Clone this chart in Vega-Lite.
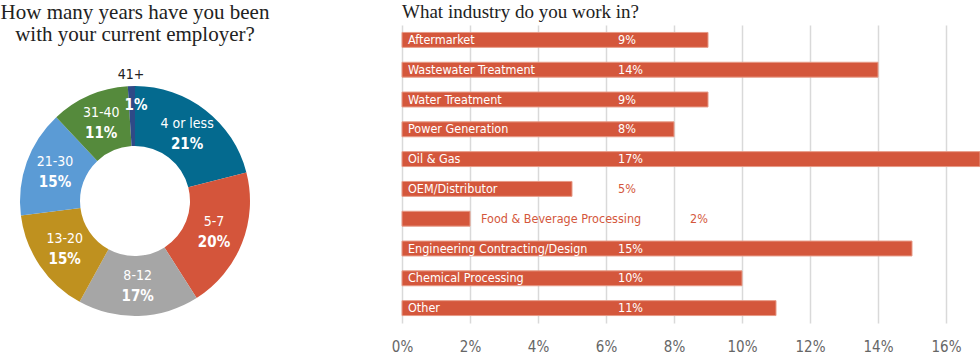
{
  "$schema": "https://vega.github.io/schema/vega-lite/v6.json",
  "padding": {"top": 2, "left": 0, "right": 0, "bottom": 0},
  "spacing": 121,
  "background": "white",
  "config": {
    "view": {"stroke": null},
    "title": {"font": "Liberation Serif", "fontWeight": "normal", "color": "#222222"}
  },
  "hconcat": [
    {
      "vconcat": [
        {
          "width": 264,
          "height": 60,
          "title": {"text": ["How many years have you been", "with your current employer?"], "anchor": "middle", "fontSize": 21, "lineHeight": 22, "offset": -20},
          "data": {"values": []},
          "mark": "text"
        },
        {
          "width": 264,
          "height": 232,
          "data": {"values": [
            {"cat": "4 or less", "pct": 0.21, "ord": 1},
            {"cat": "5-7", "pct": 0.20, "ord": 2},
            {"cat": "8-12", "pct": 0.17, "ord": 3},
            {"cat": "13-20", "pct": 0.15, "ord": 4},
            {"cat": "21-30", "pct": 0.15, "ord": 5},
            {"cat": "31-40", "pct": 0.11, "ord": 6},
            {"cat": "41+", "pct": 0.01, "ord": 7}
          ]},
          "encoding": {
            "theta": {"field": "pct", "type": "quantitative", "stack": true},
            "order": {"field": "ord", "type": "quantitative"}
          },
          "layer": [
            {
              "mark": {"type": "arc", "innerRadius": 55, "outerRadius": 115},
              "encoding": {
                "color": {"field": "cat", "type": "nominal", "legend": null,
                  "scale": {"domain": ["4 or less", "5-7", "8-12", "13-20", "21-30", "31-40", "41+"],
                            "range": ["#046a8f", "#d4553b", "#a6a6a6", "#bf911f", "#5b9bd5", "#558a3c", "#2e4a87"]}}
              }
            },
            {
              "mark": {"type": "text", "radius": 85, "dy": -10, "color": "white", "fontSize": 14, "font": "Liberation Sans Narrow, DejaVu Sans Condensed, Roboto Condensed, Roboto, sans-serif"},
              "encoding": {"text": {"field": "cat", "type": "nominal", "condition": {"test": "datum.cat === '41+'", "value": ""}}}
            },
            {
              "mark": {"type": "text", "radius": 85, "dy": 10, "color": "white", "fontSize": 15, "fontWeight": "bold", "font": "Liberation Sans Narrow, DejaVu Sans Condensed, Roboto Condensed, Roboto, sans-serif"},
              "encoding": {"text": {"field": "pct", "type": "quantitative", "format": ".0%", "condition": {"test": "datum.cat === '41+'", "value": ""}}}
            },
            {
              "mark": {"type": "text", "radius": 126, "color": "#222222", "fontSize": 14, "font": "Liberation Sans Narrow, DejaVu Sans Condensed, Roboto Condensed, Roboto, sans-serif"},
              "encoding": {"text": {"field": "cat", "type": "nominal", "condition": {"test": "datum.cat !== '41+'", "value": ""}}}
            },
            {
              "mark": {"type": "text", "radius": 96, "dx": 4, "color": "white", "fontSize": 15, "fontWeight": "bold", "font": "Liberation Sans Narrow, DejaVu Sans Condensed, Roboto Condensed, Roboto, sans-serif"},
              "encoding": {"text": {"field": "pct", "type": "quantitative", "format": ".0%", "condition": {"test": "datum.cat !== '41+'", "value": ""}}}
            }
          ]
        }
      ],
      "spacing": 0,
      "bounds": "flush"
    },
    {
      "width": 578,
      "height": 298,
      "title": {"text": "What industry do you work in?", "anchor": "start", "frame": "group", "fontSize": 19, "offset": 3},
      "data": {"values": [
        {"cat": "Aftermarket", "value": 0.09},
        {"cat": "Wastewater Treatment", "value": 0.14},
        {"cat": "Water Treatment", "value": 0.09},
        {"cat": "Power Generation", "value": 0.08},
        {"cat": "Oil & Gas", "value": 0.17},
        {"cat": "OEM/Distributor", "value": 0.05},
        {"cat": "Food & Beverage Processing", "value": 0.02},
        {"cat": "Engineering Contracting/Design", "value": 0.15},
        {"cat": "Chemical Processing", "value": 0.10},
        {"cat": "Other", "value": 0.11}
      ]},
      "encoding": {
        "y": {"field": "cat", "type": "nominal", "sort": null, "axis": null,
              "scale": {"paddingInner": 0.5, "paddingOuter": 0.25}}
      },
      "layer": [
        {
          "mark": {"type": "bar", "color": "#d4573c", "stroke": "#e79a86", "strokeWidth": 1},
          "encoding": {
            "x": {"field": "value", "type": "quantitative",
                  "scale": {"domain": [0, 0.17], "nice": false},
                  "axis": {"title": null, "values": [0, 0.02, 0.04, 0.06, 0.08, 0.1, 0.12, 0.14, 0.16], "format": ".0%",
                           "grid": true, "gridColor": "#d9d9d9", "gridWidth": 1.5, "domain": false, "ticks": false,
                           "labelFlush": false, "labelFontSize": 15, "labelColor": "#666666", "labelPadding": 16,
                           "labelFont": "Liberation Sans Narrow, DejaVu Sans Condensed, Roboto Condensed, Roboto, sans-serif"}}
          }
        },
        {
          "transform": [{"filter": "datum.value >= 0.03"}],
          "mark": {"type": "text", "align": "left", "baseline": "middle", "dx": 6, "color": "white", "fontSize": 12.5, "font": "Liberation Sans Narrow, DejaVu Sans Condensed, Roboto Condensed, Roboto, sans-serif"},
          "encoding": {"x": {"datum": 0, "type": "quantitative"}, "text": {"field": "cat", "type": "nominal"}}
        },
        {
          "transform": [{"filter": "datum.value >= 0.03"}],
          "mark": {"type": "text", "align": "left", "baseline": "middle", "dx": 216, "fontSize": 12.5, "font": "Liberation Sans Narrow, DejaVu Sans Condensed, Roboto Condensed, Roboto, sans-serif"},
          "encoding": {
            "x": {"datum": 0, "type": "quantitative"},
            "text": {"field": "value", "type": "quantitative", "format": ".0%"},
            "color": {"condition": {"test": "datum.value > 0.065", "value": "white"}, "value": "#d4573c"}
          }
        },
        {
          "transform": [{"filter": "datum.value < 0.03"}],
          "mark": {"type": "text", "align": "left", "baseline": "middle", "dx": 11, "color": "#d4573c", "fontSize": 12.5, "font": "Liberation Sans Narrow, DejaVu Sans Condensed, Roboto Condensed, Roboto, sans-serif"},
          "encoding": {"x": {"field": "value", "type": "quantitative"}, "text": {"field": "cat", "type": "nominal"}}
        },
        {
          "transform": [{"filter": "datum.value < 0.03"}],
          "mark": {"type": "text", "align": "left", "baseline": "middle", "dx": 220, "color": "#d4573c", "fontSize": 12.5, "font": "Liberation Sans Narrow, DejaVu Sans Condensed, Roboto Condensed, Roboto, sans-serif"},
          "encoding": {"x": {"field": "value", "type": "quantitative"}, "text": {"field": "value", "type": "quantitative", "format": ".0%"}}
        }
      ]
    }
  ]
}
